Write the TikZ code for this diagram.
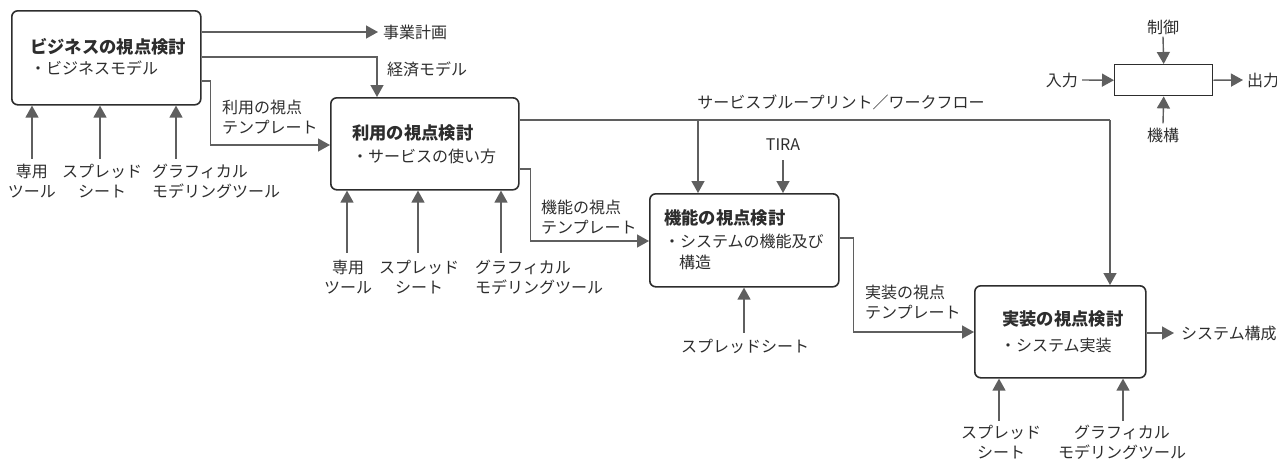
\documentclass[tikz,border=0pt]{standalone}
\usepackage{fontspec}
\setmainfont{Noto Sans CJK JP}
\usetikzlibrary{arrows.meta}
\definecolor{ln}{RGB}{95,95,95}
\definecolor{bd}{RGB}{45,45,45}
\definecolor{tx}{RGB}{45,45,45}
\begin{document}
\begin{tikzpicture}[x=1pt,y=-1pt,
  box/.style={draw=bd,line width=1.6pt,rounded corners=6pt,anchor=north west,inner sep=0pt,fill=white},
  conn/.style={draw=ln,line width=1.4pt},
  arr/.style={conn,-{Triangle[length=12pt,width=13pt]}},
  lbl/.style={inner sep=0pt,text=tx,font=\fontsize{16}{20}\selectfont},
  ttl/.style={inner sep=0pt,text=tx,font=\fontsize{17.3}{20}\selectfont\bfseries},
]
\useasboundingbox (0,0) rectangle (1277,459);

% main boxes
\node[box,minimum width=189pt,minimum height=94pt] (b1) at (11,10) {};
\node[ttl,anchor=west] (b1t) at (30,47) {ビジネスの視点検討};
\node[lbl,anchor=west] (b1s) at (30,68) {・ビジネスモデル};

\node[box,minimum width=188pt,minimum height=92pt] (b2) at (330,97) {};
\node[ttl,anchor=west] (b2t) at (352,133) {利用の視点検討};
\node[lbl,anchor=west] (b2s) at (352,156) {・サービスの使い方};

\node[box,minimum width=189pt,minimum height=93pt] (b3) at (649,193) {};
\node[ttl,anchor=west] (b3t) at (664,218) {機能の視点検討};
\node[lbl,anchor=west] (b3s) at (664,241) {・システムの機能及び};
\node[lbl,anchor=west] (b3s2) at (679,262) {構造};

\node[box,minimum width=171pt,minimum height=92pt] (b4) at (974,285) {};
\node[ttl,anchor=west] (b4t) at (1002,319) {実装の視点検討};
\node[lbl,anchor=west] (b4s) at (1000,345) {・システム実装};

% legend
\node[draw=bd,line width=1.4pt,minimum width=98pt,minimum height=31pt,anchor=north west,inner sep=0pt] (lg) at (1114,64) {};
\node[lbl] (lgc) at (1163,27) {制御};
\node[lbl] (lgm) at (1163,135) {機構};
\node[lbl,anchor=east] (lgi) at (1078,80) {入力};
\node[lbl,anchor=west] (lgo) at (1247,80) {出力};
\draw[arr] ([yshift=-2pt]lgc.south) -- (lg.north);
\draw[arr] ([yshift=4pt]lgm.north) -- (lg.south);
\draw[arr] ([xshift=4pt]lgi.east) -- (lg.west);
\draw[arr] (lg.east) -- ([xshift=-4pt]lgo.west);

% outputs of b1
\node[lbl,anchor=west] (t1) at (383,32) {事業計画};
\draw[arr] ([yshift=-22pt]b1.north east) -- ([xshift=-5pt]t1.west);
\node[lbl,anchor=west] (t2) at (387,69) {経済モデル};
\draw[arr] ([yshift=-47pt]b1.north east) -| ([xshift=47pt]b2.north west);
\node[lbl,anchor=west,align=left] (t3) at (222,117) {利用の視点\\テンプレート};
\draw[arr] ([yshift=-71pt]b1.north east) -- ++(9,0) |- ([yshift=-48pt]b2.north west);

% service blueprint line
\coordinate (s1) at (698,120);
\coordinate (s2) at (1110,120);
\node[lbl] (t4) at (841,102) {サービスブループリント／ワークフロー};
\draw[conn] ([yshift=-23pt]b2.north east) -- (s2);
\draw[arr] (s2) -- (s2 |- b4.north);
\draw[arr] (s1) -- (s1 |- b3.north);

\node[lbl] (tira) at (783,145) {TIRA};
\draw[arr] ([yshift=-9pt]tira.south) -- (tira.south |- b3.north);

\node[lbl,anchor=west,align=left] (t5) at (541,217) {機能の視点\\テンプレート};
\draw[arr] ([yshift=-72pt]b2.north east) -- ++(11,0) |- ([yshift=-48pt]b3.north west);

\node[lbl,anchor=west,align=left] (t6) at (865,302) {実装の視点\\テンプレート};
\draw[arr] ([yshift=-45pt]b3.north east) -- ++(14,0) |- ([yshift=-47pt]b4.north west);

\node[lbl,anchor=west] (t7) at (1181,333) {システム構成};
\draw[arr] ([yshift=-48pt]b4.north east) -- ([xshift=-7pt]t7.west);

% inputs b1
\node[lbl,align=center] (i11) at (32,181) {専用\\ツール};
\node[lbl,align=center] (i12) at (102,181) {スプレッド\\シート};
\node[lbl,align=left,anchor=west] (i13) at (152,181) {グラフィカル\\モデリングツール};
\coordinate (a11) at ([yshift=5pt]i11.north);
\coordinate (a12) at ([xshift=-2pt,yshift=5pt]i12.north);
\coordinate (a13) at ([xshift=24pt,yshift=5pt]i13.north west);
\draw[arr] (a11) -- (a11 |- b1.south);
\draw[arr] (a12) -- (a12 |- b1.south);
\draw[arr] (a13) -- (a13 |- b1.south);

% inputs b2
\node[lbl,align=center] (i21) at (348,277) {専用\\ツール};
\node[lbl,align=center] (i22) at (419,277) {スプレッド\\シート};
\node[lbl,align=left,anchor=west] (i23) at (475,277) {グラフィカル\\モデリングツール};
\coordinate (a21) at ([xshift=-1pt,yshift=7pt]i21.north);
\coordinate (a22) at ([xshift=-1pt,yshift=7pt]i22.north);
\coordinate (a23) at ([xshift=26pt,yshift=7pt]i23.north west);
\draw[arr] (a21) -- (a21 |- b2.south);
\draw[arr] (a22) -- (a22 |- b2.south);
\draw[arr] (a23) -- (a23 |- b2.south);

% input b3
\node[lbl] (i31) at (745,346) {スプレッドシート};
\coordinate (a31) at ([xshift=-1pt,yshift=6pt]i31.north);
\draw[arr] (a31) -- (a31 |- b3.south);

% inputs b4
\node[lbl,align=center] (i41) at (1001,442) {スプレッド\\シート};
\node[lbl,align=center] (i42) at (1122,442) {グラフィカル\\モデリングツール};
\coordinate (a41) at ([xshift=-2pt,yshift=4pt]i41.north);
\coordinate (a42) at ([xshift=1pt,yshift=4pt]i42.north);
\draw[arr] (a41) -- (a41 |- b4.south);
\draw[arr] (a42) -- (a42 |- b4.south);
\end{tikzpicture}
\end{document}
